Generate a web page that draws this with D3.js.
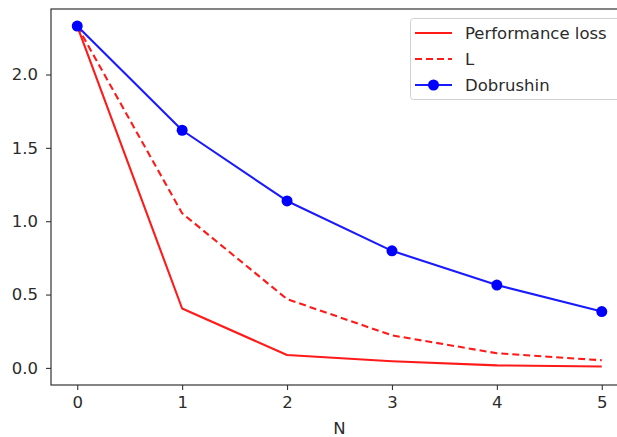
<!DOCTYPE html>
<html>
<head>
<meta charset="utf-8">
<script src="https://cdn.jsdelivr.net/npm/d3@7"></script>
<style>
  html, body { margin: 0; padding: 0; background: #fff; }
  svg { display: block; font-family: "DejaVu Sans", sans-serif; }
</style>
</head>
<body>
<svg id="chart" width="617" height="437"></svg>
<script>
// Data
const steps = [0, 1, 2, 3, 4, 5];
const performanceLoss = [2.33, 0.405, 0.088, 0.045, 0.017, 0.01];
const lBound = [2.33, 1.054, 0.469, 0.222, 0.10, 0.052];
const dobrushin = [2.33, 1.62, 1.138, 0.798, 0.565, 0.384];
const xTicks = [0, 1, 2, 3, 4, 5];
const yTicks = [0.0, 0.5, 1.0, 1.5, 2.0];
const legendLabels = ["Performance loss", "L", "Dobrushin"];
const xLabel = "N";

const svg = d3.select("#chart");
const plotLeft = 51, plotTop = 9, plotRight = 628, plotBottom = 385;
const fontSize = "16.5px";

const x = d3.scaleLinear().domain([-0.25, 5.25]).range([plotLeft, plotRight]);
const y = d3.scaleLinear().domain([-0.1165, 2.4465]).range([plotBottom, plotTop]);

const axisColor = "#333";
const textColor = "#2b2b2b";

// Axes
const xAxis = svg.append("g")
  .attr("transform", `translate(0,${plotBottom})`)
  .call(d3.axisBottom(x).tickValues(xTicks).tickFormat(d3.format("d")).tickSize(5).tickPadding(6));
const yAxis = svg.append("g")
  .attr("transform", `translate(${plotLeft},0)`)
  .call(d3.axisLeft(y).tickValues(yTicks).tickFormat(d3.format(".1f")).tickSize(5).tickPadding(8));

[xAxis, yAxis].forEach(g => {
  g.select(".domain").remove();
  g.selectAll(".tick line").attr("stroke", axisColor).attr("stroke-width", 1.1);
  g.selectAll(".tick text").attr("fill", textColor).style("font-size", fontSize)
    .style("font-family", "'DejaVu Sans', sans-serif");
});

// Frame
svg.append("rect")
  .attr("x", plotLeft).attr("y", plotTop)
  .attr("width", plotRight - plotLeft).attr("height", plotBottom - plotTop)
  .attr("fill", "none").attr("stroke", axisColor).attr("stroke-width", 1.2);

// Axis label
svg.append("text")
  .attr("x", x(2.5)).attr("y", 434)
  .attr("text-anchor", "middle")
  .attr("fill", textColor).style("font-size", fontSize)
  .text(xLabel);

const line = d3.line().x((d, i) => x(steps[i])).y(d => y(d));

const series = [
  { values: performanceLoss, color: "#ff1a1a", dash: null, marker: false },
  { values: lBound, color: "#ff1a1a", dash: "7,4", marker: false },
  { values: dobrushin, color: "#1a1aff", dash: null, marker: true }
];

series.forEach(s => {
  svg.append("path")
    .datum(s.values)
    .attr("d", line)
    .attr("fill", "none")
    .attr("stroke", s.color)
    .attr("stroke-width", 2.1)
    .attr("stroke-dasharray", s.dash)
    .attr("stroke-linejoin", "round");
  if (s.marker) {
    svg.selectAll(null)
      .data(s.values)
      .enter().append("circle")
      .attr("cx", (d, i) => x(steps[i]))
      .attr("cy", d => y(d))
      .attr("r", 5.5)
      .attr("fill", "#0000ff");
  }
});

// Legend
const lg = svg.append("g");
lg.append("rect")
  .attr("x", 410.5).attr("y", 18.5)
  .attr("width", 212).attr("height", 81)
  .attr("rx", 3)
  .attr("fill", "#fff").attr("fill-opacity", 0.85)
  .attr("stroke", "#d0d0d0").attr("stroke-width", 1);

const rowY = [33, 59, 85];
series.forEach((s, i) => {
  lg.append("line")
    .attr("x1", 415).attr("x2", 452)
    .attr("y1", rowY[i]).attr("y2", rowY[i])
    .attr("stroke", s.color).attr("stroke-width", 2.1)
    .attr("stroke-dasharray", s.dash);
  if (s.marker) {
    lg.append("circle").attr("cx", 433.5).attr("cy", rowY[i]).attr("r", 5.5).attr("fill", "#0000ff");
  }
  lg.append("text")
    .attr("x", 465).attr("y", rowY[i])
    .attr("dy", "0.35em")
    .attr("fill", textColor).style("font-size", fontSize)
    .text(legendLabels[i]);
});
</script>
</body>
</html>
